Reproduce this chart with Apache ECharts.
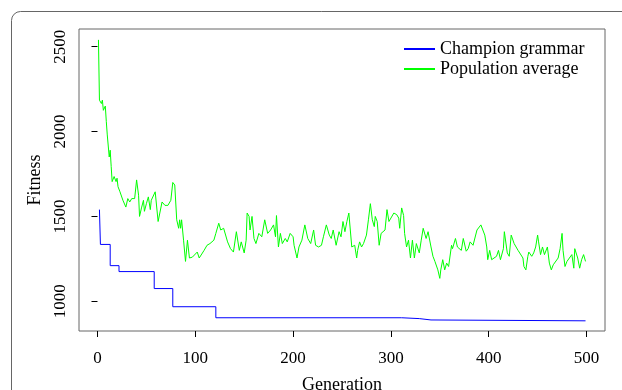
<!DOCTYPE html>
<html><head><meta charset="utf-8">
<script src="https://cdn.jsdelivr.net/npm/echarts@6/dist/echarts.min.js"></script>
<style>html,body{margin:0;padding:0;background:#fff}#c{width:622px;height:390px}</style>
</head><body><div id="c"></div>
<script>
const xTicks = [0, 100, 200, 300, 400, 500];
const yTicks = [1000, 1500, 2000, 2500];
const seriesNames = ['Champion grammar', 'Population average'];

const champGen = [2, 3, 13, 22, 58, 77, 121, 311, 329, 341, 499];
const champFit = [1540, 1335, 1210, 1175, 1075, 968, 903, 898, 890, 885, 885];

const popGen = [1,2,4,5,6,8,9,10,12,13,14,15,17,19,20,21,23,25,26,27,29,31,33,35,37,38,40,42,43,45,47,48,50,52,54,55,57,59,62,66,69,72,75,77,79,81,83,84,85,86,88,90,92,94,97,102,104,109,112,115,119,121,124,126,129,133,136,139,142,145,147,150,152,153,155,156,158,160,162,165,168,171,174,177,180,182,183,185,187,189,192,194,197,200,201,204,206,209,212,215,218,221,223,226,229,231,234,237,239,241,244,247,249,251,253,255,257,260,261,263,265,266,268,270,272,275,277,279,281,283,284,286,288,290,294,296,298,300,303,306,308,309,311,313,314,316,318,320,322,324,326,329,331,333,336,338,341,343,345,348,350,351,353,355,357,359,362,363,366,368,370,372,374,377,379,381,384,386,388,390,392,393,394,396,398,399,401,403,405,408,410,412,415,416,419,421,423,426,428,430,432,435,436,438,440,441,444,446,448,450,451,453,455,457,460,462,464,466,468,471,473,475,476,478,480,482,485,487,488,491,493,495,497,499];
const popFit = [2540,2185,2165,2185,2125,2150,2060,1980,1850,1890,1795,1705,1735,1705,1725,1675,1645,1635,1595,1605,1555,1605,1585,1605,1595,1605,1715,1625,1500,1550,1595,1530,1575,1615,1540,1595,1585,1645,1470,1585,1565,1565,1595,1700,1685,1480,1430,1480,1430,1480,1360,1235,1360,1255,1260,1290,1255,1300,1330,1340,1360,1400,1460,1420,1430,1350,1310,1290,1410,1300,1350,1285,1360,1520,1500,1420,1500,1370,1340,1400,1380,1480,1400,1420,1450,1380,1505,1320,1400,1340,1370,1350,1400,1380,1330,1255,1320,1360,1450,1370,1340,1420,1330,1320,1330,1380,1450,1390,1370,1420,1330,1410,1380,1470,1410,1470,1520,1320,1310,1330,1255,1300,1350,1320,1340,1390,1480,1575,1480,1440,1500,1470,1330,1400,1420,1540,1470,1480,1520,1510,1490,1430,1550,1505,1400,1320,1360,1255,1360,1255,1340,1285,1360,1430,1370,1410,1320,1265,1235,1185,1135,1185,1245,1185,1225,1205,1330,1310,1370,1320,1310,1300,1370,1295,1310,1350,1330,1340,1420,1410,1450,1460,1440,1390,1320,1245,1300,1245,1255,1265,1300,1245,1310,1410,1285,1265,1390,1340,1350,1300,1310,1255,1205,1185,1265,1290,1265,1285,1320,1390,1350,1275,1320,1275,1320,1225,1185,1215,1215,1255,1310,1400,1300,1205,1235,1235,1275,1195,1310,1255,1195,1245,1275,1235];

const champData = champGen.map((g, i) => [g, champFit[i]]);
const popData = popGen.map((g, i) => [g, popFit[i]]);

const FONT = '"Liberation Serif", "DejaVu Serif", serif';
const chart = echarts.init(document.getElementById('c'), null, {renderer: 'canvas'});
chart.setOption({
  animation: false,
  backgroundColor: '#fff',
  graphic: [{
    type: 'rect',
    shape: {x: 11.5, y: 11.5, width: 700, height: 500, r: 9},
    style: {fill: 'none', stroke: '#666', lineWidth: 1}, silent: true, z: 0
  }],
  grid: {left: 79, right: 17, top: 29, bottom: 59, show: true, borderColor: '#666', borderWidth: 1, backgroundColor: 'transparent', containLabel: false, outerBoundsMode: 'none'},
  legend: {
    orient: 'vertical', left: 404, top: 40, padding: 0,
    itemWidth: 31, itemHeight: 2, itemGap: 2, icon: 'rect',
    textStyle: {fontFamily: FONT, fontSize: 18, color: '#000'},
    data: seriesNames
  },
  xAxis: {
    type: 'value', min: -18.9, max: 518.9,
    name: 'Generation', nameLocation: 'middle', nameGap: 45,
    nameTextStyle: {fontFamily: FONT, fontSize: 18, color: '#000'},
    axisLine: {show: false},
    axisTick: {show: true, customValues: xTicks, length: 6, lineStyle: {color: '#000'}},
    axisLabel: {customValues: xTicks, formatter: v => String(v), fontFamily: FONT, fontSize: 17, color: '#000', margin: 19},
    splitLine: {show: false}
  },
  yAxis: {
    type: 'value', min: 825, max: 2604,
    name: 'Fitness', nameLocation: 'middle', nameGap: 25, nameRotate: 90,
    nameTextStyle: {fontFamily: FONT, fontSize: 18, color: '#000'},
    axisLine: {show: false},
    axisTick: {show: true, customValues: yTicks, length: 6, lineStyle: {color: '#000'}},
    axisLabel: {customValues: yTicks, formatter: v => String(v), rotate: 90, fontFamily: FONT, fontSize: 17, color: '#000', margin: 10},
    splitLine: {show: false}
  },
  series: [
    {name: seriesNames[0], type: 'line', step: 'end', data: champData, showSymbol: false, color: '#0000ff', lineStyle: {width: 1, color: '#0000ff'}},
    {name: seriesNames[1], type: 'line', data: popData, showSymbol: false, color: '#00ff00', lineStyle: {width: 1, color: '#00ff00'}}
  ]
});
</script></body></html>
